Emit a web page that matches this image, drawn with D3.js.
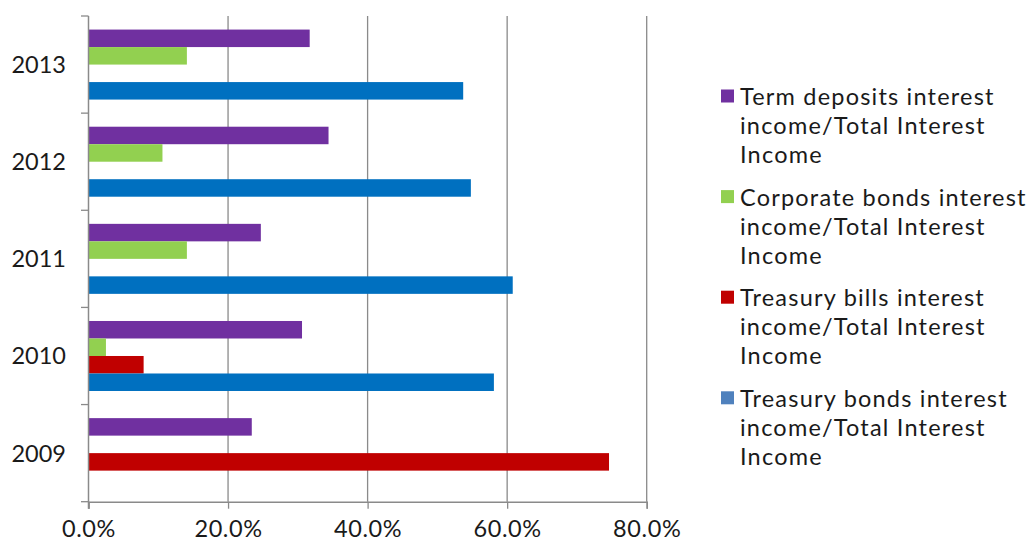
<!DOCTYPE html>
<html><head><meta charset="utf-8">
<script src="https://cdn.jsdelivr.net/npm/d3@7"></script>
<style>body{margin:0;background:#fff;} svg{display:block;}</style>
</head><body>
<svg id="chart" width="1033" height="543"></svg>
<script>
const categories = ["2013", "2012", "2011", "2010", "2009"];
const seriesNames = [
  "Term deposits interest income/Total Interest Income",
  "Corporate bonds interest income/Total Interest Income",
  "Treasury bills interest income/Total Interest Income",
  "Treasury bonds interest income/Total Interest Income"
];
const legendLines = [
  ["Term deposits interest", "income/Total Interest", "Income"],
  ["Corporate bonds interest", "income/Total Interest", "Income"],
  ["Treasury bills interest", "income/Total Interest", "Income"],
  ["Treasury bonds interest", "income/Total Interest", "Income"]
];
const termDeposits   = [0.317, 0.344, 0.247, 0.306, 0.234];
const corporateBonds = [0.141, 0.106, 0.141, 0.025, 0.0];
const treasuryBills  = [0.0, 0.0, 0.0, 0.079, 0.746];
const treasuryBonds  = [0.537, 0.548, 0.608, 0.581, 0.0];
const xTicks = [0, 0.2, 0.4, 0.6, 0.8];
const barColors = ["#7030A0", "#92D050", "#C00000", "#0070C0"];
const legendColors = ["#7030A0", "#92D050", "#C00000", "#4F81BD"];

(function () {
const seriesValues = [termDeposits, corporateBonds, treasuryBills, treasuryBonds];
const FONT = "Lato, 'DejaVu Sans', sans-serif";
const FS = 23.5;
const LS = 1.2;
const svg = d3.select("#chart");
const pLeft = 88.5, pRight = 646.7, pTop = 16, pBottom = 501.7;
const x = d3.scaleLinear().domain([0, 0.8]).range([pLeft, pRight]);
const y = d3.scaleBand().domain(categories).range([pTop, pBottom]).padding(0);
const bw = y.bandwidth();
const slot = 17.5;
const sub = d3.scaleBand().domain(d3.range(seriesNames.length))
  .range([(bw - slot * 4) / 2, (bw + slot * 4) / 2]).padding(0);

const gridCol = "#8a8a8a";
svg.append("g").selectAll("line").data(xTicks.slice(1)).join("line")
  .attr("x1", d => x(d)).attr("x2", d => x(d))
  .attr("y1", pTop).attr("y2", pBottom)
  .attr("stroke", gridCol).attr("stroke-width", 1.3);

const data = [];
categories.forEach((c, i) => seriesValues.forEach((vals, s) => {
  if (vals[i] > 0) data.push({c, s, v: vals[i]});
}));
svg.append("g").selectAll("rect").data(data).join("rect")
  .attr("x", x(0))
  .attr("y", d => y(d.c) + sub(d.s))
  .attr("width", d => x(d.v) - x(0))
  .attr("height", sub.bandwidth())
  .attr("fill", d => barColors[d.s]);

const xAxis = d3.axisBottom(x).tickValues(xTicks).tickFormat(d3.format(".1%")).tickSizeOuter(0).tickSize(7).tickPadding(0);
const gx = svg.append("g").attr("transform", `translate(0,${pBottom})`).call(xAxis);
gx.select(".domain").attr("stroke", gridCol).attr("stroke-width", 1.5);
gx.selectAll(".tick line").attr("stroke", gridCol).attr("stroke-width", 1.3);
gx.selectAll("text").attr("font-family", FONT).attr("font-size", FS).attr("fill", "#1a1a1a")
  .attr("letter-spacing", 0.6).attr("y", 35.5).attr("dy", null);

const yTickPos = categories.map(c => y(c)).concat([pBottom]);
svg.append("g").selectAll("line").data(yTickPos).join("line")
  .attr("x1", pLeft - 7.5).attr("x2", pLeft).attr("y1", d => d).attr("y2", d => d)
  .attr("stroke", gridCol).attr("stroke-width", 1.3);
svg.append("line").attr("x1", pLeft).attr("x2", pLeft).attr("y1", pTop).attr("y2", pBottom + 7)
  .attr("stroke", gridCol).attr("stroke-width", 1.5);
svg.append("g").selectAll("text").data(categories).join("text")
  .attr("x", 66).attr("y", d => y(d) + bw / 2)
  .attr("dy", "0.36em").attr("text-anchor", "end")
  .attr("font-family", FONT).attr("font-size", FS).attr("fill", "#1a1a1a")
  .text(d => d);

const lg = svg.append("g");
legendLines.forEach((lines, i) => {
  const by = 105 + i * 100.6;
  lg.append("rect").attr("x", 721).attr("y", by - 15.5).attr("width", 13).attr("height", 13)
    .attr("fill", legendColors[i]);
  lines.forEach((t, j) => {
    lg.append("text").attr("x", 740).attr("y", by + j * 29)
      .attr("font-family", FONT).attr("font-size", FS).attr("letter-spacing", LS).attr("fill", "#1a1a1a").text(t);
  });
});
})();
</script>
</body></html>
